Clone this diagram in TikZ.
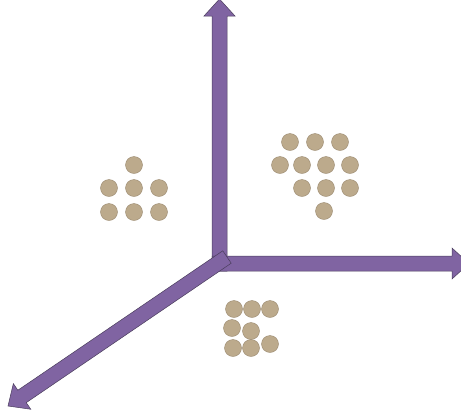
\documentclass[tikz,border=0pt]{standalone}
\usepackage{tikz}
\usetikzlibrary{calc}

\definecolor{axispurple}{HTML}{8064A2}
\definecolor{axisline}{HTML}{4A3D5C}
\definecolor{dottan}{HTML}{BCAA8C}
\definecolor{dotline}{HTML}{9A8A70}

% thick arrow from #1 to the tip #2
\newcommand{\fatarrow}[2]{%
  \coordinate (fa-s) at (#1);
  \coordinate (fa-t) at (#2);
  \coordinate (fa-h) at ($(fa-t)!17pt!(fa-s)$);
  \filldraw[axis] ($(fa-s)!7.5pt!90:(fa-t)$) -- ($(fa-h)!7.5pt!90:(fa-t)$)
    -- ($(fa-h)!15.5pt!90:(fa-t)$) -- (fa-t) -- ($(fa-h)!15.5pt!-90:(fa-t)$)
    -- ($(fa-h)!7.5pt!-90:(fa-t)$) -- ($(fa-s)!7.5pt!-90:(fa-t)$) -- cycle;}

\begin{document}
\begin{tikzpicture}[x=1pt, y=-1pt,
  axis/.style={fill=axispurple, draw=axisline, line width=0.5pt, line join=miter},
  dot/.style={circle, fill=dottan, draw=dotline, line width=0.4pt,
    minimum size=17pt, inner sep=0pt}]
\useasboundingbox (0,0) rectangle (461,416);
\clip (0,0) rectangle (461,416);

% axes
\coordinate (ybase) at (219.5,271);
\coordinate (ytip) at (219.5,-1);
\coordinate (xbase) at (212,263.5);
\coordinate (xtip) at (469,263.5);
\coordinate (zbase) at (227,257);
\coordinate (ztip) at (8,406);
\fatarrow{ybase}{ytip}
\fatarrow{xbase}{xtip}
\fatarrow{zbase}{ztip}

% left group
\node[dot] (l1) at (134,165) {};
\node[dot] (l2) at (109,188) {};
\node[dot] (l3) at (134,188) {};
\node[dot] (l4) at (159,188) {};
\node[dot] (l5) at (109,212) {};
\node[dot] (l6) at (134,212) {};
\node[dot] (l7) at (159,212) {};

% right group
\node[dot] (r1) at (290,142) {};
\node[dot] (r2) at (315,142) {};
\node[dot] (r3) at (340,142) {};
\node[dot] (r4) at (280,165) {};
\node[dot] (r5) at (302,165) {};
\node[dot] (r6) at (326,165) {};
\node[dot] (r7) at (350,165) {};
\node[dot] (r8) at (302,188) {};
\node[dot] (r9) at (326,188) {};
\node[dot] (r10) at (350,188) {};
\node[dot] (r11) at (324,211) {};

% bottom group
\node[dot] (b1) at (234,309) {};
\node[dot] (b2) at (252,309) {};
\node[dot] (b3) at (270,309) {};
\node[dot] (b4) at (232,328) {};
\node[dot] (b5) at (251,331) {};
\node[dot] (b6) at (233,348) {};
\node[dot] (b7) at (251,348) {};
\node[dot] (b8) at (270,344) {};
\end{tikzpicture}
\end{document}
